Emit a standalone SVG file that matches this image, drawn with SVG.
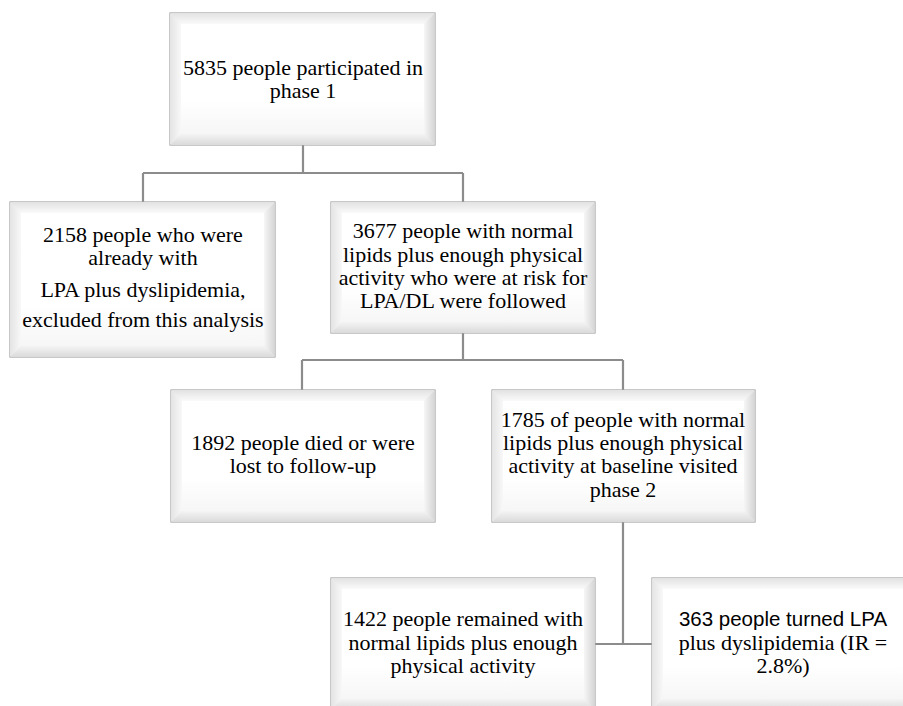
<svg xmlns="http://www.w3.org/2000/svg" width="903" height="706" viewBox="0 0 903 706">
<style>
.outer{fill:#ececec;stroke:#a3a3a3;stroke-width:1.2}
.bt{fill:url(#gTop)}
.bl{fill:url(#gLeft)}
.br{fill:url(#gRight)}
.bb{fill:url(#gBot)}
.face{fill:url(#gFace)}
.conn{fill:none;stroke:#8c8c8c;stroke-width:2.2}
</style>
<defs>
<linearGradient id="gTop" x1="0" y1="0" x2="0" y2="1"><stop offset="0" stop-color="#e2e2e2"/><stop offset="1" stop-color="#fafafa"/></linearGradient>
<linearGradient id="gLeft" x1="0" y1="0" x2="1" y2="0"><stop offset="0" stop-color="#e4e4e4"/><stop offset="1" stop-color="#f8f8f8"/></linearGradient>
<linearGradient id="gRight" x1="0" y1="0" x2="1" y2="0"><stop offset="0" stop-color="#f6f6f6"/><stop offset="1" stop-color="#d4d4d4"/></linearGradient>
<linearGradient id="gBot" x1="0" y1="0" x2="0" y2="1"><stop offset="0" stop-color="#f4f4f4"/><stop offset="1" stop-color="#dadada"/></linearGradient>
<linearGradient id="gFace" x1="0" y1="0" x2="0" y2="1"><stop offset="0" stop-color="#ffffff"/><stop offset="0.7" stop-color="#ffffff"/><stop offset="1" stop-color="#f6f6f6"/></linearGradient>
</defs>
<rect width="903" height="706" fill="#ffffff"/>
<g id="connectors">
<path class="conn" d="M303 145 V173 M143 173 H463 M143 173 V202 M463 173 V202"/>
<path class="conn" d="M463 333 V360 M302 360 H623 M302 360 V390 M623 360 V390"/>
<path class="conn" d="M623 522 V644 M595 644 H652"/>
</g>
<g id="n1">
<rect class="outer" x="170" y="13" width="265" height="132"/>
<polygon class="bt" points="170,13 435,13 424,24 181,24"/>
<polygon class="bl" points="170,13 181,24 181,134 170,145"/>
<polygon class="br" points="435,13 424,24 424,134 435,145"/>
<polygon class="bb" points="170,145 435,145 424,134 181,134"/>
<rect class="face" x="181" y="24" width="243" height="110"/>
<text style="font-family:'Liberation Serif',serif;font-size:22px;text-anchor:middle" x="303" y="75">5835 people participated in</text>
<text style="font-family:'Liberation Serif',serif;font-size:22px;text-anchor:middle" x="303" y="98">phase 1</text>
</g>
<g id="n2">
<rect class="outer" x="10" y="202" width="265" height="155"/>
<polygon class="bt" points="10,202 275,202 264,213 21,213"/>
<polygon class="bl" points="10,202 21,213 21,346 10,357"/>
<polygon class="br" points="275,202 264,213 264,346 275,357"/>
<polygon class="bb" points="10,357 275,357 264,346 21,346"/>
<rect class="face" x="21" y="213" width="243" height="133"/>
<text style="font-family:'Liberation Serif',serif;font-size:22px;text-anchor:middle" x="143" y="242">2158 people who were</text>
<text style="font-family:'Liberation Serif',serif;font-size:22px;text-anchor:middle" x="143" y="265">already with</text>
<text style="font-family:'Liberation Serif',serif;font-size:22px;text-anchor:middle" x="143" y="297">LPA plus dyslipidemia,</text>
<text style="font-family:'Liberation Serif',serif;font-size:22px;text-anchor:middle" x="143" y="327">excluded from this analysis</text>
</g>
<g id="n3">
<rect class="outer" x="331" y="202" width="264" height="131"/>
<polygon class="bt" points="331,202 595,202 584,213 342,213"/>
<polygon class="bl" points="331,202 342,213 342,322 331,333"/>
<polygon class="br" points="595,202 584,213 584,322 595,333"/>
<polygon class="bb" points="331,333 595,333 584,322 342,322"/>
<rect class="face" x="342" y="213" width="242" height="109"/>
<text style="font-family:'Liberation Serif',serif;font-size:22px;text-anchor:middle" x="463" y="238">3677 people with normal</text>
<text style="font-family:'Liberation Serif',serif;font-size:22px;text-anchor:middle" x="463" y="262">lipids plus enough physical</text>
<text style="font-family:'Liberation Serif',serif;font-size:22px;text-anchor:middle" x="463" y="285">activity who were at risk for</text>
<text style="font-family:'Liberation Serif',serif;font-size:22px;text-anchor:middle" x="463" y="308">LPA/DL were followed</text>
</g>
<g id="n4">
<rect class="outer" x="171" y="390" width="264" height="132"/>
<polygon class="bt" points="171,390 435,390 424,401 182,401"/>
<polygon class="bl" points="171,390 182,401 182,511 171,522"/>
<polygon class="br" points="435,390 424,401 424,511 435,522"/>
<polygon class="bb" points="171,522 435,522 424,511 182,511"/>
<rect class="face" x="182" y="401" width="242" height="110"/>
<text style="font-family:'Liberation Serif',serif;font-size:22px;text-anchor:middle" x="303" y="450">1892 people died or were</text>
<text style="font-family:'Liberation Serif',serif;font-size:22px;text-anchor:middle" x="303" y="473">lost to follow-up</text>
</g>
<g id="n5">
<rect class="outer" x="492" y="390" width="263" height="132"/>
<polygon class="bt" points="492,390 755,390 744,401 503,401"/>
<polygon class="bl" points="492,390 503,401 503,511 492,522"/>
<polygon class="br" points="755,390 744,401 744,511 755,522"/>
<polygon class="bb" points="492,522 755,522 744,511 503,511"/>
<rect class="face" x="503" y="401" width="241" height="110"/>
<text style="font-family:'Liberation Serif',serif;font-size:22px;text-anchor:middle" x="623" y="427">1785 of people with normal</text>
<text style="font-family:'Liberation Serif',serif;font-size:22px;text-anchor:middle" x="623" y="450">lipids plus enough physical</text>
<text style="font-family:'Liberation Serif',serif;font-size:22px;text-anchor:middle" x="623" y="473">activity at baseline visited</text>
<text style="font-family:'Liberation Serif',serif;font-size:22px;text-anchor:middle" x="623" y="497">phase 2</text>
</g>
<g id="n6">
<rect class="outer" x="331" y="578" width="264" height="132"/>
<polygon class="bt" points="331,578 595,578 584,589 342,589"/>
<polygon class="bl" points="331,578 342,589 342,699 331,710"/>
<polygon class="br" points="595,578 584,589 584,699 595,710"/>
<polygon class="bb" points="331,710 595,710 584,699 342,699"/>
<rect class="face" x="342" y="589" width="242" height="110"/>
<text style="font-family:'Liberation Serif',serif;font-size:22px;text-anchor:middle" x="463" y="626">1422 people remained with</text>
<text style="font-family:'Liberation Serif',serif;font-size:22px;text-anchor:middle" x="463" y="650">normal lipids plus enough</text>
<text style="font-family:'Liberation Serif',serif;font-size:22px;text-anchor:middle" x="463" y="673">physical activity</text>
</g>
<g id="n7">
<rect class="outer" x="652" y="578" width="264" height="132"/>
<polygon class="bt" points="652,578 916,578 905,589 663,589"/>
<polygon class="bl" points="652,578 663,589 663,699 652,710"/>
<polygon class="br" points="916,578 905,589 905,699 916,710"/>
<polygon class="bb" points="652,710 916,710 905,699 663,699"/>
<rect class="face" x="663" y="589" width="242" height="110"/>
<text style="font-family:'Liberation Sans',sans-serif;font-size:20.5px;text-anchor:middle" x="783" y="626">363 people turned LPA</text>
<text style="font-family:'Liberation Serif',serif;font-size:22px;text-anchor:middle" x="783" y="650">plus dyslipidemia (IR =</text>
<text style="font-family:'Liberation Serif',serif;font-size:22px;text-anchor:middle" x="783" y="673">2.8%)</text>
</g>
</svg>
